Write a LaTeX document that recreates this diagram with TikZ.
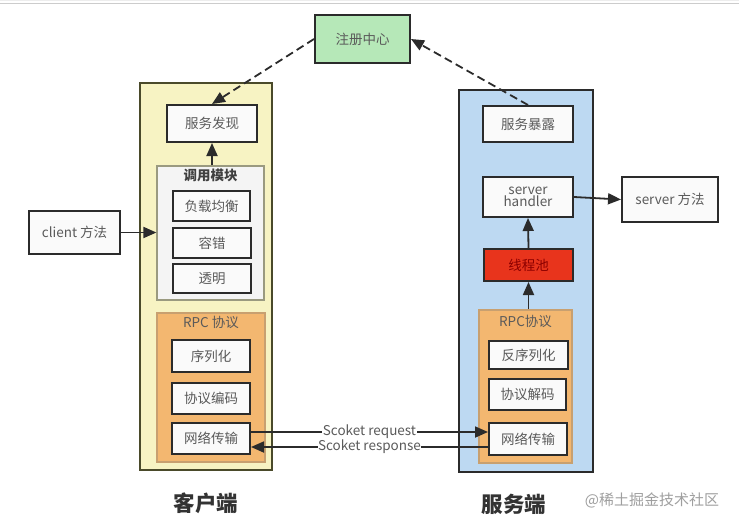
\documentclass[tikz,border=0pt]{standalone}
\usepackage{fontspec}
\setmainfont{Noto Sans CJK SC}
\usetikzlibrary{arrows.meta}
\definecolor{txt}{HTML}{5A5A5A}
\definecolor{edge}{HTML}{2B2B2B}
\definecolor{greenfill}{HTML}{B6E8B8}
\definecolor{yellowfill}{HTML}{F7F3C3}
\definecolor{yellowedge}{HTML}{4A4A2A}
\definecolor{bluefill}{HTML}{BDD9F2}
\definecolor{grayfill}{HTML}{F4F4F4}
\definecolor{grayedge}{HTML}{9A9A80}
\definecolor{orangefill}{HTML}{F3B770}
\definecolor{orangeedge}{HTML}{C8A070}
\definecolor{redfill}{HTML}{E8341C}
\tikzset{
  box/.style={draw=edge, line width=2pt, fill=white!96!gray, text=txt, font=\fontsize{13.5}{15}\selectfont, inner sep=1pt, align=center},
  container/.style={draw=edge, line width=2pt},
  arr/.style={-{Triangle[length=13pt,width=11pt]}, line width=1.8pt, draw=edge},
  darr/.style={arr, dashed, dash pattern=on 8pt off 4.5pt},
  lbl/.style={text=txt, font=\fontsize{13.5}{15}\selectfont, fill=white, inner sep=0.5pt},
  title/.style={text=txt, font=\fontsize{13.5}{15}\selectfont, inner sep=0pt},
}
\begin{document}
\begin{tikzpicture}[x=1pt,y=-1pt]
\useasboundingbox (0,0) rectangle (739,525);
\fill[white] (0,0) rectangle (739,525);
\draw[gray!14, line width=0.6pt, step=15pt] (0,-525) grid (739,0);
\draw[gray!40, line width=1pt] (0,3) -- (739,3);

% registry
\node[box, fill=greenfill, minimum width=95pt, minimum height=48pt] (reg) at (362.5,39) {注册中心};

% client container
\node[container, draw=yellowedge, fill=yellowfill, minimum width=132pt, minimum height=387pt] (client) at (206,276.5) {};
\node[box, minimum width=90pt, minimum height=37pt] (disc) at (212,123.5) {服务发现};
\node[draw=grayedge, line width=1.2pt, fill=grayfill, minimum width=107pt, minimum height=134pt] (call) at (210.5,233) {};
\node[title, font=\bfseries\fontsize{13.5}{15}\selectfont, text=black!75] (calltitle) at (210.5,175) {调用模块};
\node[box, minimum width=77pt, minimum height=30pt] (lb) at (211.5,206) {负载均衡};
\node[box, minimum width=78pt, minimum height=30pt] (ft) at (212,243) {容错};
\node[box, minimum width=78pt, minimum height=29pt] (tr) at (212,278.5) {透明};
\node[draw=orangeedge, line width=1.2pt, fill=orangefill, minimum width=108pt, minimum height=149pt] (rpcc) at (211,387.5) {};
\node[title] (rpcctitle) at (211,322) {RPC 协议};
\node[box, minimum width=78pt, minimum height=32pt] (ser) at (211,356) {序列化};
\node[box, minimum width=78pt, minimum height=31pt] (enc) at (211,398.5) {协议编码};
\node[box, minimum width=78pt, minimum height=31pt] (netc) at (211,438.5) {网络传输};
\node[box, minimum width=91pt, minimum height=43pt] (cm) at (74.5,232.5) {client 方法};

% server container
\node[container, fill=bluefill, minimum width=134pt, minimum height=382pt] (server) at (526,281) {};
\node[box, minimum width=90pt, minimum height=36pt] (exp) at (528,124) {服务暴露};
\node[box, minimum width=90pt, minimum height=40pt] (hd) at (528,197) {server\\[-3pt]handler};
\node[box, fill=redfill, text=red!55!black, minimum width=89pt, minimum height=32pt] (pool) at (528.5,265) {线程池};
\node[draw=orangeedge, line width=1.2pt, fill=orangefill, minimum width=93pt, minimum height=153pt] (rpcs) at (525.5,386.5) {};
\node[title] (rpcstitle) at (525.5,321) {RPC协议};
\node[box, minimum width=79pt, minimum height=28pt] (des) at (528.5,355) {反序列化};
\node[box, minimum width=77pt, minimum height=31pt] (dec) at (527.5,394.5) {协议解码};
\node[box, minimum width=78pt, minimum height=32pt] (nets) at (528,439) {网络传输};
\node[box, minimum width=96pt, minimum height=45pt] (sm) at (670,199.5) {server 方法};

% labels
\node[font=\bfseries\fontsize{21.5}{24}\selectfont, text=black!80] (cl) at (206,503) {客户端};
\node[font=\bfseries\fontsize{21.5}{24}\selectfont, text=black!80] (sl) at (514,504) {服务端};
\node[font=\fontsize{15}{17}\selectfont, text=gray!75] (wm) at (652,500) {@稀土掘金技术社区};

% connectors
\draw[darr] (reg.west) -- (disc.north);
\draw[darr] (exp.north) -- (reg.east);
\draw[arr] (call.north -| disc) -- (disc.south);
\draw[arr] (cm.east) -- (cm.east -| call.west);
\draw[arr] (netc.east |- 0,432) -- node[lbl] {Scoket request} (nets.west |- 0,432);
\draw[arr] (nets.west |- 0,447) -- node[lbl] {Scoket response} (netc.east |- 0,447);
\draw[arr] (rpcs.north -| pool) -- (pool.south);
\draw[arr] (pool.north) -- (hd.south);
\draw[arr] (hd.east) -- (sm.west);
\end{tikzpicture}
\end{document}
